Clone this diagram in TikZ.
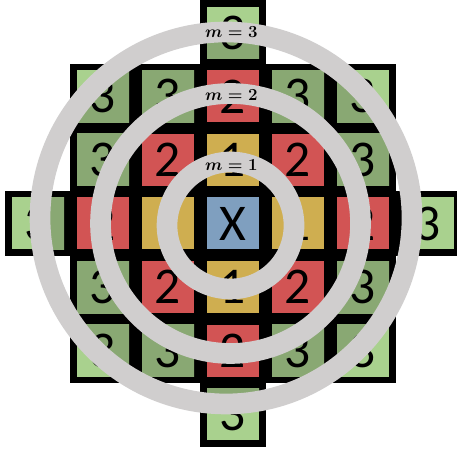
\documentclass[tikz,border=0pt]{standalone}
\usepackage{fontspec}
\newfontfamily\cellfont{Carlito}
\usepackage{tikz}
\usetikzlibrary{positioning}
\definecolor{kltgreen}{HTML}{A9D18E}
\definecolor{kdkgreen}{HTML}{89A873}
\definecolor{kred}{HTML}{D25454}
\definecolor{kyellow}{HTML}{CFAE50}
\definecolor{kblue}{HTML}{7F9FBF}
\definecolor{kring}{HTML}{D0CECE}
\tikzset{
  cell/.style={minimum width=1.56cm, minimum height=1.56cm, inner sep=0pt,
    font=\fontsize{44}{44}\selectfont\cellfont},
  outercell/.style={cell, fill=kltgreen,
    path picture={\fill[kdkgreen] (ringc3) circle[radius=5.58cm];}},
  ring/.style={draw=kring, line width=0.62cm},
  mlabel/.style={fill=kring, inner sep=1.5pt, font=\fontsize{15}{15}\selectfont\boldmath}
}
% dx/dy/number of every cell around the centre
\def\cellsA{0/3/3, -2/2/3, -1/2/3, 0/2/2, 1/2/3, 2/2/3,
  -2/1/3, -1/1/2, 0/1/1, 1/1/2, 2/1/3,
  -3/0/3, -2/0/2, -1/0/1, 1/0/1, 2/0/2, 3/0/3,
  -2/-1/3, -1/-1/2, 0/-1/1, 1/-1/2, 2/-1/3,
  -2/-2/3, -1/-2/3, 0/-2/2, 1/-2/3, 2/-2/3, 0/-3/3}
\begin{document}
\begin{tikzpicture}[x=1.95cm, y=1.908cm]
\useasboundingbox (-3.585,-3.593) rectangle (3.446,3.514);
% black frame under the cells
\fill[black] (-0.51,-0.51) rectangle (0.51,0.51);
\foreach \dx/\dy/\num in \cellsA
  \fill[black] (\dx-0.51,\dy-0.51) rectangle (\dx+0.51,\dy+0.51);
% cells
\node[cell, fill=kblue] (xcell) at (0,0) {X};
\coordinate (ringc1) at ([xshift=-0.075cm, yshift=-0.06cm]xcell.center);
\coordinate (ringc2) at ([xshift=-0.075cm]xcell.center);
\coordinate (ringc3) at ([xshift=-0.21cm, yshift=0.165cm]xcell.center);
\foreach \dx/\dy/\num [count=\k] in \cellsA {
  \ifnum\num=1
    \node[cell, fill=kyellow] (cell\k) at (\dx,\dy) {\num};
  \else\ifnum\num=2
    \node[cell, fill=kred] (cell\k) at (\dx,\dy) {\num};
  \else
    \node[outercell] (cell\k) at (\dx,\dy) {\num};
  \fi\fi
}
% rings
\draw[ring] (ringc1) circle[radius=1.905cm];
\draw[ring] (ringc2) circle[radius=3.9cm];
\draw[ring] (ringc3) circle[radius=5.58cm];
\node[mlabel] (m1) at ([xshift=-0.05cm, yshift=1.76cm]xcell.center) {$m=1$};
\node[mlabel] (m2) at ([xshift=-0.05cm, yshift=3.86cm]xcell.center) {$m=2$};
\node[mlabel] (m3) at ([xshift=-0.05cm, yshift=5.73cm]xcell.center) {$m=3$};
\end{tikzpicture}
\end{document}
